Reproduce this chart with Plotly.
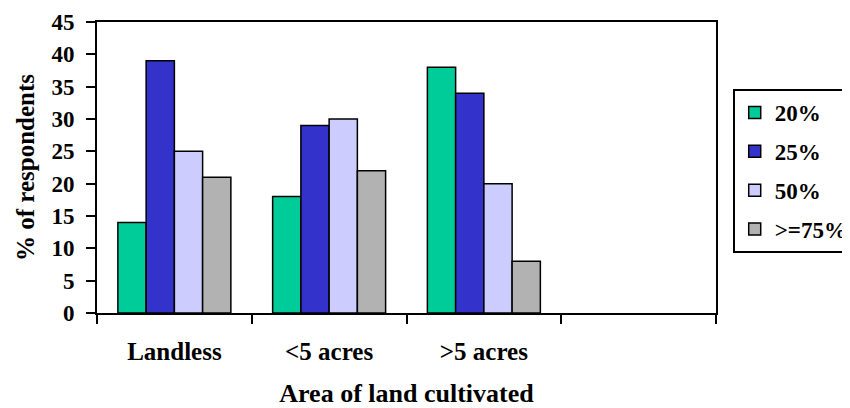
import plotly.graph_objects as go

categories = ["Landless", "<5 acres", ">5 acres", " "]
series_names = ["20%", "25%", "50%", ">=75%"]
values_20 = [14, 18, 38, None]
values_25 = [39, 29, 34, None]
values_50 = [25, 30, 20, None]
values_75 = [21, 22, 8, None]
y_ticks = [0, 5, 10, 15, 20, 25, 30, 35, 40, 45]

colors = ["#00CC99", "#3333CC", "#CCCCFF", "#B2B2B2"]
FONT = "Liberation Serif"

fig = go.Figure()
for name, vals, col in zip(series_names, [values_20, values_25, values_50, values_75], colors):
    fig.add_trace(go.Bar(
        x=categories, y=vals, name=name, legendgroup=name,
        marker=dict(color=col, line=dict(color="black", width=1.5)),
    ))

fig.update_layout(
    width=842, height=400,
    margin=dict(l=89, r=134, t=14, b=95, autoexpand=False),
    paper_bgcolor="white", plot_bgcolor="white",
    barmode="group", bargap=0.27, bargroupgap=0,
    font=dict(family=FONT, size=24, color="black", weight="bold"),
    showlegend=True,
    legend=dict(
        x=1.027, y=0.77, xanchor="left", yanchor="top",
        bordercolor="black", borderwidth=2, bgcolor="white",
        font=dict(family=FONT, size=23, color="black", weight="bold"),
        tracegroupgap=6, traceorder="grouped", itemwidth=30,
    ),
)
fig.update_xaxes(
    type="category", categoryorder="array", categoryarray=categories,
    tickson="boundaries", ticks="outside", ticklen=9, tickwidth=2, tickcolor="black",
    showline=True, linecolor="black", linewidth=2, mirror=True,
    showgrid=False, range=[-0.5, 3.5], automargin=False,
    ticklabelstandoff=15,
    tickfont=dict(family=FONT, size=25, color="black", weight="bold"),
    title=dict(text="Area of land cultivated", standoff=22,
               font=dict(family=FONT, size=26, color="black", weight="bold")),
)
fig.update_yaxes(
    range=[0, 45], tickvals=y_ticks, ticks="outside", ticklen=9, tickwidth=2, tickcolor="black",
    showline=True, linecolor="black", linewidth=2, mirror=True,
    showgrid=False, zeroline=False, automargin=False,
    ticklabelstandoff=7,
    tickfont=dict(family=FONT, size=23, color="black", weight="bold"),
    title=dict(text="% of respondents", standoff=10,
               font=dict(family=FONT, size=25, color="black", weight="bold")),
)

fig.write_html("out.html")
